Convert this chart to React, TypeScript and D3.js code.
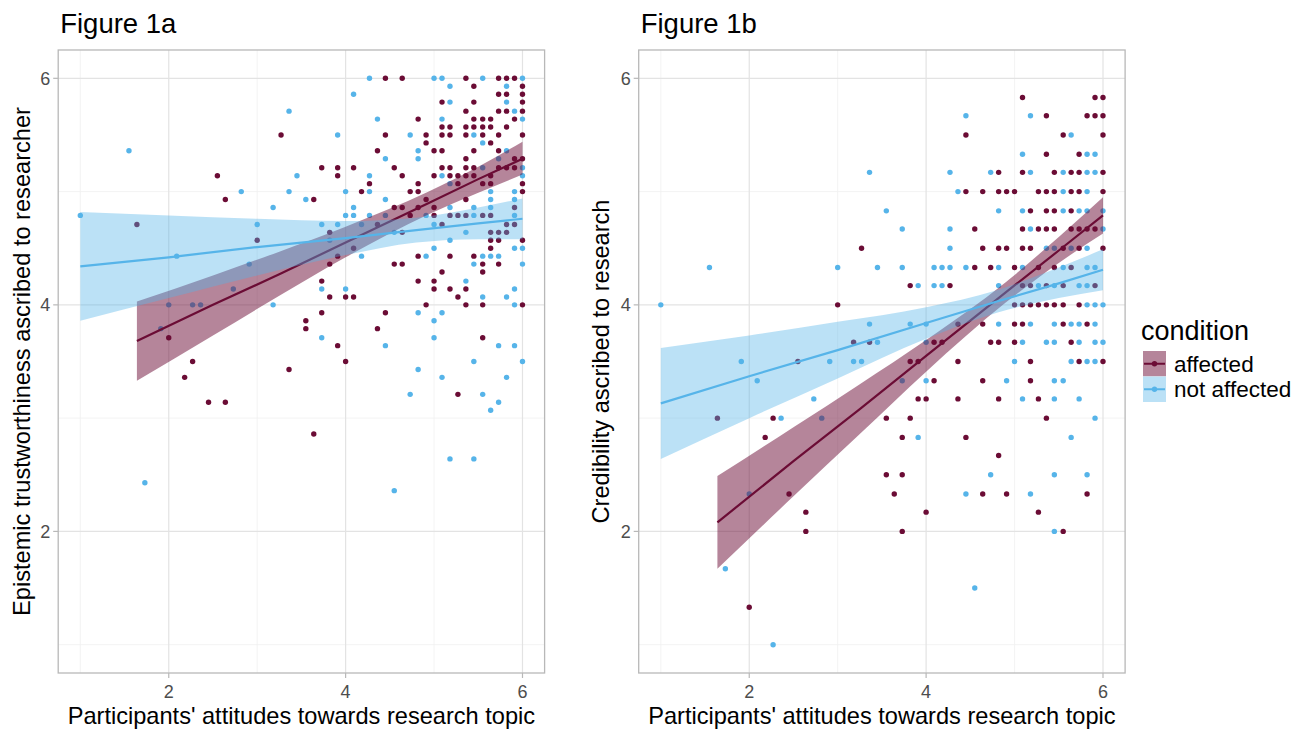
import React from 'react';
import * as d3 from 'd3';

const SVG_W = 1311;
const SVG_H = 729;
const PANEL_W = 486.4;
const PANEL_H = 623;
const PANEL_TOP = 50;

const xTicks = [2, 4, 6];
const yTicks = [2, 4, 6];
const minorTicks = [1, 3, 5];
const conditions = ['affected', 'not affected'];
const condColors: Record<string, string> = { affected: '#6B0C35', 'not affected': '#56B4E9' };
const ribbonOpacity: Record<string, number> = { affected: 0.5, 'not affected': 0.4 };

// Figure 1a: epistemic trustworthiness
const fig1aAffected: [number, number][] = [
  [4.45, 6.0], [4.64, 6.0], [5.36, 6.0], [5.73, 6.0], [5.82, 6.0], [5.91, 6.0],
  [5.45, 5.93], [6.0, 5.93],
  [5.73, 5.86], [5.82, 5.86], [6.0, 5.86],
  [5.09, 5.79], [5.45, 5.79], [6.0, 5.79],
  [5.36, 5.71], [5.73, 5.71], [5.82, 5.71], [6.0, 5.71],
  [4.82, 5.64], [5.45, 5.64], [5.55, 5.64], [5.64, 5.64], [5.91, 5.64],
  [5.09, 5.57], [5.18, 5.57], [5.36, 5.57], [5.45, 5.57], [5.55, 5.57], [5.64, 5.57], [5.82, 5.57],
  [3.27, 5.5], [4.45, 5.5], [4.91, 5.5], [5.09, 5.5], [5.18, 5.5], [5.36, 5.5], [5.55, 5.5], [5.73, 5.5], [6.0, 5.5],
  [4.91, 5.43], [5.64, 5.43],
  [4.36, 5.36], [5.0, 5.36], [5.09, 5.36], [5.45, 5.36], [5.73, 5.36],
  [5.36, 5.29], [5.91, 5.29], [6.0, 5.29],
  [3.73, 5.21], [3.91, 5.21], [4.09, 5.21], [4.55, 5.21], [5.09, 5.21], [5.18, 5.21], [5.36, 5.21], [5.45, 5.21], [5.73, 5.21], [5.82, 5.21], [5.91, 5.21],
  [2.55, 5.14], [3.91, 5.14], [4.64, 5.14], [5.0, 5.14], [5.18, 5.14], [5.27, 5.14], [5.36, 5.14], [5.45, 5.14], [5.64, 5.14],
  [4.27, 5.07], [4.82, 5.07], [5.27, 5.07], [5.55, 5.07], [5.64, 5.07], [6.0, 5.07],
  [4.18, 5.0], [4.73, 5.0], [4.82, 5.0], [6.0, 5.0],
  [2.64, 4.93], [3.64, 4.93], [4.91, 4.93], [5.36, 4.93],
  [4.55, 4.86], [4.64, 4.86], [4.82, 4.86], [5.0, 4.86], [5.91, 4.86],
  [4.73, 4.79], [5.0, 4.79], [5.18, 4.79], [5.27, 4.79], [5.36, 4.79], [5.55, 4.79], [5.64, 4.79],
  [1.64, 4.71], [4.36, 4.71], [5.09, 4.71], [5.82, 4.71], [5.91, 4.71],
  [3.82, 4.64], [4.64, 4.64], [5.64, 4.64], [5.73, 4.64], [5.82, 4.64],
  [3.0, 4.57], [5.64, 4.57], [5.73, 4.57], [6.0, 4.57],
  [4.09, 4.5], [5.64, 4.5],
  [3.91, 4.43], [4.82, 4.43], [5.18, 4.43], [5.45, 4.43],
  [3.82, 4.36], [4.55, 4.36], [4.64, 4.36], [5.55, 4.36], [5.73, 4.36],
  [5.09, 4.29], [5.55, 4.29],
  [3.73, 4.21], [4.82, 4.21], [5.0, 4.21],
  [5.0, 4.14], [5.18, 4.14], [5.36, 4.14],
  [3.82, 4.07], [4.0, 4.07], [4.09, 4.07], [5.27, 4.07],
  [4.91, 4.0], [5.36, 4.0], [5.55, 4.0], [6.0, 4.0],
  [3.73, 3.93], [4.45, 3.93],
  [3.55, 3.86],
  [3.55, 3.79], [4.36, 3.79],
  [2.0, 3.71], [5.55, 3.71],
  [3.91, 3.64],
  [2.27, 3.5], [4.0, 3.5],
  [3.36, 3.43],
  [2.18, 3.36],
  [5.27, 3.21],
  [2.45, 3.14], [2.64, 3.14],
  [3.64, 2.86],
];

const fig1aNotAffected: [number, number][] = [
  [4.27, 6.0], [5.0, 6.0], [5.09, 6.0], [5.55, 6.0], [6.0, 6.0],
  [5.18, 5.93], [5.82, 5.93],
  [4.09, 5.86],
  [5.18, 5.79], [5.82, 5.79],
  [3.36, 5.71], [5.91, 5.71],
  [4.36, 5.64], [5.09, 5.64], [6.0, 5.64],
  [3.91, 5.5], [4.73, 5.5], [5.45, 5.5],
  [5.55, 5.43],
  [1.55, 5.36], [4.82, 5.36], [5.82, 5.36],
  [4.45, 5.29], [4.82, 5.29], [5.73, 5.29],
  [5.55, 5.21], [6.0, 5.21],
  [3.45, 5.14], [4.27, 5.14], [5.09, 5.14], [6.0, 5.14],
  [5.18, 5.07],
  [2.82, 5.0], [3.36, 5.0], [4.0, 5.0], [4.27, 5.0], [5.64, 5.0], [5.91, 5.0],
  [3.55, 4.93], [4.45, 4.93], [5.64, 4.93], [5.91, 4.93],
  [3.18, 4.86], [4.09, 4.86], [5.18, 4.86], [5.45, 4.86], [5.64, 4.86],
  [1.0, 4.79], [4.0, 4.79], [4.09, 4.79], [4.27, 4.79], [4.45, 4.79], [4.91, 4.79], [5.45, 4.79], [5.91, 4.79],
  [3.0, 4.71], [3.73, 4.71], [3.91, 4.71], [4.18, 4.71], [5.0, 4.71],
  [4.55, 4.64], [5.36, 4.64],
  [3.82, 4.57], [5.18, 4.57],
  [5.0, 4.5], [5.91, 4.5], [6.0, 4.5],
  [2.09, 4.43], [4.18, 4.43], [4.91, 4.43], [5.55, 4.43], [5.64, 4.43], [5.73, 4.43],
  [2.91, 4.36], [5.45, 4.36], [6.0, 4.36],
  [5.36, 4.21],
  [2.73, 4.14], [3.73, 4.14], [4.0, 4.14], [5.91, 4.14],
  [5.55, 4.07], [5.82, 4.07],
  [2.0, 4.0], [2.27, 4.0], [2.36, 4.0], [3.18, 4.0], [5.91, 4.0],
  [4.82, 3.93], [5.09, 3.93],
  [5.0, 3.86],
  [1.91, 3.79],
  [3.73, 3.71], [5.0, 3.71],
  [4.45, 3.64], [5.73, 3.64], [5.91, 3.64],
  [5.45, 3.5], [6.0, 3.5],
  [4.82, 3.43],
  [5.09, 3.36], [5.82, 3.36],
  [4.73, 3.21], [5.55, 3.21],
  [5.73, 3.14],
  [5.64, 3.07],
  [5.18, 2.64], [5.45, 2.64],
  [1.73, 2.43],
  [4.55, 2.36],
];

// Figure 1b: credibility
const fig1bAffected: [number, number][] = [
  [5.09, 5.83], [5.91, 5.83], [6.0, 5.83],
  [5.36, 5.67], [5.82, 5.67], [5.91, 5.67], [6.0, 5.67],
  [4.45, 5.5], [5.55, 5.5], [6.0, 5.5],
  [5.36, 5.33], [5.73, 5.33],
  [4.82, 5.17], [5.09, 5.17], [5.45, 5.17], [5.64, 5.17], [5.73, 5.17], [6.0, 5.17],
  [4.45, 5.0], [4.64, 5.0], [4.82, 5.0], [4.91, 5.0], [5.0, 5.0], [5.27, 5.0], [5.36, 5.0], [5.45, 5.0], [5.64, 5.0], [5.73, 5.0], [6.0, 5.0],
  [5.18, 4.83], [5.36, 4.83], [5.45, 4.83], [5.64, 4.83],
  [4.55, 4.67], [5.09, 4.67], [5.27, 4.67], [5.36, 4.67], [5.45, 4.67], [5.64, 4.67], [5.73, 4.67], [5.82, 4.67], [5.91, 4.67],
  [3.27, 4.5], [4.64, 4.5], [4.82, 4.5], [4.91, 4.5], [5.09, 4.5], [5.18, 4.5], [5.55, 4.5], [5.73, 4.5], [6.0, 4.5],
  [4.55, 4.33], [4.73, 4.33], [5.0, 4.33], [5.27, 4.33], [5.45, 4.33], [5.64, 4.33],
  [3.82, 4.17], [4.27, 4.17], [5.09, 4.17], [5.18, 4.17], [5.36, 4.17], [5.55, 4.17], [5.91, 4.17],
  [3.0, 4.0], [5.0, 4.0], [5.09, 4.0], [5.18, 4.0], [5.27, 4.0], [5.36, 4.0], [5.45, 4.0], [5.55, 4.0], [5.73, 4.0],
  [4.36, 3.83], [4.64, 3.83], [5.0, 3.83], [5.09, 3.83], [5.55, 3.83], [5.82, 3.83],
  [3.18, 3.67], [3.36, 3.67], [4.09, 3.67], [4.18, 3.67], [4.73, 3.67], [4.82, 3.67], [5.0, 3.67], [5.64, 3.67],
  [2.55, 3.5], [3.82, 3.5], [3.91, 3.5], [4.36, 3.5], [5.18, 3.5], [5.73, 3.5], [6.0, 3.5],
  [4.09, 3.33], [4.64, 3.33], [5.18, 3.33],
  [3.91, 3.17], [4.0, 3.17], [4.36, 3.17], [4.82, 3.17], [5.27, 3.17],
  [1.64, 3.0], [2.27, 3.0], [3.55, 3.0], [3.82, 3.0], [5.36, 3.0],
  [2.18, 2.83], [3.73, 2.83], [4.45, 2.83],
  [4.82, 2.67],
  [3.55, 2.5], [3.73, 2.5],
  [2.45, 2.33], [3.64, 2.33], [4.64, 2.33], [4.91, 2.33], [5.82, 2.33],
  [2.64, 2.17], [4.0, 2.17], [5.27, 2.17],
  [2.64, 2.0], [3.73, 2.0], [5.55, 2.0],
  [2.0, 1.33],
];

const fig1bNotAffected: [number, number][] = [
  [4.45, 5.67], [5.18, 5.67],
  [5.64, 5.5],
  [5.09, 5.33], [5.82, 5.33], [5.91, 5.33],
  [3.36, 5.17], [4.27, 5.17], [4.73, 5.17], [5.18, 5.17], [5.55, 5.17], [5.82, 5.17], [5.91, 5.17],
  [4.36, 5.0], [5.55, 5.0], [5.82, 5.0],
  [3.55, 4.83], [4.82, 4.83], [5.09, 4.83], [5.55, 4.83], [5.73, 4.83], [5.82, 4.83], [6.0, 4.83],
  [3.73, 4.67], [4.27, 4.67], [5.18, 4.67], [6.0, 4.67],
  [4.27, 4.5], [5.36, 4.5], [5.45, 4.5], [5.64, 4.5], [5.82, 4.5],
  [1.55, 4.33], [3.0, 4.33], [3.45, 4.33], [3.73, 4.33], [4.09, 4.33], [4.18, 4.33], [4.27, 4.33], [4.45, 4.33], [4.82, 4.33], [5.09, 4.33], [5.55, 4.33], [5.82, 4.33], [5.91, 4.33],
  [3.91, 4.17], [4.09, 4.17], [4.18, 4.17], [4.82, 4.17], [5.27, 4.17], [5.45, 4.17], [5.73, 4.17], [5.82, 4.17],
  [1.0, 4.0], [5.82, 4.0], [5.91, 4.0], [6.0, 4.0],
  [3.36, 3.83], [3.82, 3.83], [4.0, 3.83], [4.82, 3.83], [5.18, 3.83], [5.45, 3.83], [5.64, 3.83], [5.73, 3.83], [5.91, 3.83],
  [3.45, 3.67], [4.0, 3.67], [5.09, 3.67], [5.36, 3.67], [5.45, 3.67], [5.73, 3.67], [5.91, 3.67], [6.0, 3.67],
  [1.91, 3.5], [2.91, 3.5], [3.18, 3.5], [3.27, 3.5], [5.0, 3.5], [5.64, 3.5], [5.82, 3.5], [5.91, 3.5],
  [2.09, 3.33], [3.73, 3.33], [4.0, 3.33], [4.91, 3.33], [5.45, 3.33], [5.55, 3.33],
  [2.73, 3.17], [5.09, 3.17], [5.45, 3.17], [5.73, 3.17],
  [2.36, 3.0], [2.82, 3.0], [5.91, 3.0],
  [3.91, 2.83], [5.64, 2.83],
  [4.73, 2.5], [5.45, 2.5], [5.82, 2.5],
  [2.0, 2.33], [4.45, 2.33], [5.18, 2.33],
  [5.45, 2.0],
  [1.73, 1.67],
  [4.55, 1.5],
  [2.27, 1.0],
];

// Fitted lines with 95% bands
const fit1aAffectedX = [1.64, 2.5, 3.25, 4.0, 4.94, 5.5, 6.0];
const fit1aAffectedY = [3.68, 4.0, 4.27, 4.55, 4.9, 5.11, 5.29];
const fit1aAffectedLo = [3.33, 3.73, 4.08, 4.42, 4.8, 4.99, 5.15];
const fit1aAffectedHi = [4.03, 4.26, 4.47, 4.69, 5.0, 5.22, 5.44];

const fit1aNotAffectedX = [1, 2, 3, 4, 4.8, 5.5, 6];
const fit1aNotAffectedY = [4.34, 4.42, 4.51, 4.59, 4.66, 4.72, 4.76];
const fit1aNotAffectedLo = [3.86, 4.06, 4.26, 4.44, 4.55, 4.58, 4.58];
const fit1aNotAffectedHi = [4.82, 4.79, 4.76, 4.74, 4.77, 4.86, 4.94];

const fit1bAffectedX = [1.64, 2.5, 3.25, 4.0, 4.9, 5.5, 6.0];
const fit1bAffectedY = [2.08, 2.62, 3.08, 3.55, 4.11, 4.48, 4.79];
const fit1bAffectedLo = [1.67, 2.31, 2.86, 3.41, 4.02, 4.37, 4.63];
const fit1bAffectedHi = [2.49, 2.92, 3.3, 3.69, 4.2, 4.6, 4.95];

const fit1bNotAffectedX = [1, 2, 3, 4, 4.8, 5.5, 6];
const fit1bNotAffectedY = [3.13, 3.37, 3.6, 3.84, 4.03, 4.19, 4.31];
const fit1bNotAffectedLo = [2.64, 3.0, 3.35, 3.7, 3.93, 4.06, 4.13];
const fit1bNotAffectedHi = [3.62, 3.73, 3.85, 3.98, 4.13, 4.33, 4.49];

type Fit = { xs: number[]; ys: number[]; lo: number[]; hi: number[] };

const FONT = "'Liberation Sans', Arial, Helvetica, sans-serif";

function Panel(props: {
  left: number;
  title: string;
  yTitle: string;
  yTitleX: number;
  affected: [number, number][];
  notAffected: [number, number][];
  fits: Record<string, Fit>;
}) {
  const { left, title, yTitle, yTitleX, affected, notAffected, fits } = props;
  const x = d3.scaleLinear().domain([0.75, 6.25]).range([0, PANEL_W]);
  const y = d3.scaleLinear().domain([0.75, 6.25]).range([PANEL_H, 0]);
  const pts: Record<string, [number, number][]> = { affected, 'not affected': notAffected };

  const ribbon = (f: Fit) =>
    d3
      .area<number>()
      .x((i) => x(f.xs[i]))
      .y0((i) => y(f.lo[i]))
      .y1((i) => y(f.hi[i]))
      .curve(d3.curveMonotoneX)(d3.range(f.xs.length)) || '';
  const line = (f: Fit) =>
    d3
      .line<number>()
      .x((i) => x(f.xs[i]))
      .y((i) => y(f.ys[i]))(d3.range(f.xs.length)) || '';

  return (
    <g>
      <text x={left + 2} y={33} fontSize={27.5} fontFamily={FONT} fill="#000">
        {title}
      </text>
      <g transform={`translate(${left},${PANEL_TOP})`}>
        <rect x={0} y={0} width={PANEL_W} height={PANEL_H} fill="#fff" />
        {minorTicks.map((t) => (
          <g key={'m' + t}>
            <line x1={x(t)} x2={x(t)} y1={0} y2={PANEL_H} stroke="#F0F0F0" strokeWidth={0.8} />
            <line x1={0} x2={PANEL_W} y1={y(t)} y2={y(t)} stroke="#F0F0F0" strokeWidth={0.8} />
          </g>
        ))}
        {xTicks.map((t) => (
          <line key={'gx' + t} x1={x(t)} x2={x(t)} y1={0} y2={PANEL_H} stroke="#E3E3E3" strokeWidth={1.2} />
        ))}
        {yTicks.map((t) => (
          <line key={'gy' + t} x1={0} x2={PANEL_W} y1={y(t)} y2={y(t)} stroke="#E3E3E3" strokeWidth={1.2} />
        ))}
        {conditions.map((c) => (
          <g key={'p' + c}>
            {pts[c].map((d, i) => (
              <circle key={i} cx={x(d[0])} cy={y(d[1])} r={2.7} fill={condColors[c]} />
            ))}
          </g>
        ))}
        {conditions.map((c) => (
          <g key={'f' + c}>
            <path d={ribbon(fits[c])} fill={condColors[c]} fillOpacity={ribbonOpacity[c]} stroke="none" />
            <path d={line(fits[c])} fill="none" stroke={condColors[c]} strokeWidth={2.2} />
          </g>
        ))}
        <rect x={0} y={0} width={PANEL_W} height={PANEL_H} fill="none" stroke="#B8B8B8" strokeWidth={1.3} />
        {xTicks.map((t) => (
          <g key={'tx' + t}>
            <line x1={x(t)} x2={x(t)} y1={PANEL_H} y2={PANEL_H + 5} stroke="#B8B8B8" strokeWidth={1.2} />
            <text x={x(t)} y={PANEL_H + 25} textAnchor="middle" fontSize={18} fontFamily={FONT} fill="#4D4D4D">
              {t}
            </text>
          </g>
        ))}
        {yTicks.map((t) => (
          <g key={'ty' + t}>
            <line x1={-5} x2={0} y1={y(t)} y2={y(t)} stroke="#B8B8B8" strokeWidth={1.2} />
            <text x={-8} y={y(t)} dy="0.36em" textAnchor="end" fontSize={18} fontFamily={FONT} fill="#4D4D4D">
              {t}
            </text>
          </g>
        ))}
      </g>
      <text
        x={left + PANEL_W / 2}
        y={724}
        textAnchor="middle"
        fontSize={23.6}
        fontFamily={FONT}
        fill="#000"
      >
        Participants' attitudes towards research topic
      </text>
      <text
        transform={`translate(${yTitleX},${PANEL_TOP + PANEL_H / 2}) rotate(-90)`}
        textAnchor="middle"
        fontSize={23.6}
        fontFamily={FONT}
        fill="#000"
      >
        {yTitle}
      </text>
    </g>
  );
}

function Legend() {
  const keyX = 1143;
  const keyW = 23;
  const keyH = 25.5;
  const top = 351;
  return (
    <g>
      <text x={1141} y={340} fontSize={27} fontFamily={FONT} fill="#000">
        condition
      </text>
      {conditions.map((c, i) => {
        const ky = top + i * keyH;
        return (
          <g key={c}>
            <rect x={keyX} y={ky} width={keyW} height={keyH} fill="#fff" />
            <rect x={keyX} y={ky} width={keyW} height={keyH} fill={condColors[c]} fillOpacity={ribbonOpacity[c]} />
            <line x1={keyX + 1} x2={keyX + keyW - 1} y1={ky + keyH / 2} y2={ky + keyH / 2} stroke={condColors[c]} strokeWidth={2} />
            <circle cx={keyX + keyW / 2} cy={ky + keyH / 2} r={2.7} fill={condColors[c]} />
            <text x={1174} y={ky + keyH / 2} dy="0.36em" fontSize={22.5} fontFamily={FONT} fill="#000">
              {c}
            </text>
          </g>
        );
      })}
    </g>
  );
}

export default function App() {
  const fits1a: Record<string, Fit> = {
    affected: { xs: fit1aAffectedX, ys: fit1aAffectedY, lo: fit1aAffectedLo, hi: fit1aAffectedHi },
    'not affected': { xs: fit1aNotAffectedX, ys: fit1aNotAffectedY, lo: fit1aNotAffectedLo, hi: fit1aNotAffectedHi },
  };
  const fits1b: Record<string, Fit> = {
    affected: { xs: fit1bAffectedX, ys: fit1bAffectedY, lo: fit1bAffectedLo, hi: fit1bAffectedHi },
    'not affected': { xs: fit1bNotAffectedX, ys: fit1bNotAffectedY, lo: fit1bNotAffectedLo, hi: fit1bNotAffectedHi },
  };
  return (
    <svg
      width={SVG_W}
      height={SVG_H}
      style={{ position: 'absolute', left: 0, top: 0, background: '#fff' }}
    >
      <rect x={0} y={0} width={SVG_W} height={SVG_H} fill="#fff" />
      <Panel
        left={58.2}
        title="Figure 1a"
        yTitle="Epistemic trustworthiness ascribed to researcher"
        yTitleX={30}
        affected={fig1aAffected}
        notAffected={fig1aNotAffected}
        fits={fits1a}
      />
      <Panel
        left={638.7}
        title="Figure 1b"
        yTitle="Credibility ascribed to research"
        yTitleX={609}
        affected={fig1bAffected}
        notAffected={fig1bNotAffected}
        fits={fits1b}
      />
      <Legend />
    </svg>
  );
}
